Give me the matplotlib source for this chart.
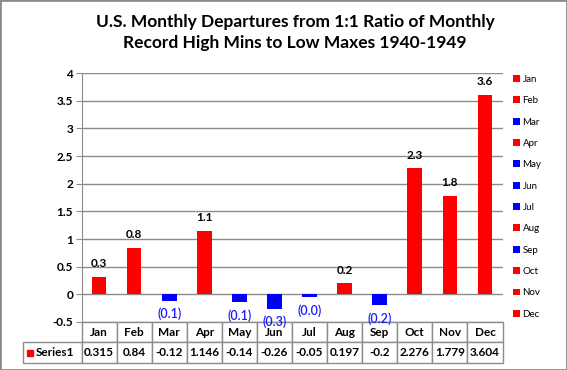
import matplotlib
matplotlib.use("Agg")
import matplotlib.pyplot as plt
from matplotlib.patches import Patch, Rectangle
from matplotlib.table import Table

months = ["Jan", "Feb", "Mar", "Apr", "May", "Jun", "Jul", "Aug", "Sep", "Oct", "Nov", "Dec"]
values = [0.315, 0.84, -0.12, 1.146, -0.14, -0.26, -0.05, 0.197, -0.2, 2.276, 1.779, 3.604]
value_text = ["0.315", "0.84", "-0.12", "1.146", "-0.14", "-0.26", "-0.05", "0.197", "-0.2", "2.276", "1.779", "3.604"]
bar_labels = ["0.3", "0.8", "(0.1)", "1.1", "(0.1)", "(0.3)", "(0.0)", "0.2", "(0.2)", "2.3", "1.8", "3.6"]
series_name = "Series1"
title = "U.S. Monthly Departures from 1:1 Ratio of Monthly\nRecord High Mins to Low Maxes 1940-1949"

plt.rcParams['font.family'] = ['Lato', 'DejaVu Sans']

W, H = 567, 370
fig = plt.figure(figsize=(W / 100, H / 100), dpi=100)
fig.patches.append(Rectangle((0, 0), 1, 1, transform=fig.transFigure, fill=False,
                             edgecolor='#8c8c8c', linewidth=2, zorder=10))

left, right, top, bottom = 81.5, 502.5, 73, 322
ax = fig.add_axes([left / W, 1 - bottom / H, (right - left) / W, (bottom - top) / H])

colors = ['#ff0000' if v >= 0 else '#0000ff' for v in values]
x = list(range(len(months)))
ax.bar(x, values, width=0.42, color=colors, zorder=3)
ax.set_xlim(-0.5, len(months) - 0.5)
ax.set_ylim(-0.5, 4)
ax.set_yticks([-0.5, 0, 0.5, 1, 1.5, 2, 2.5, 3, 3.5, 4])
ax.set_yticklabels(["-0.5", "0", "0.5", "1", "1.5", "2", "2.5", "3", "3.5", "4"],
                   fontsize=8.5, fontweight='bold')
ax.set_xticks([])
ax.grid(axis='y', color='#8c8c8c', linewidth=1, zorder=0)
for s in ['top', 'right', 'bottom']:
    ax.spines[s].set_visible(False)
ax.spines['left'].set_color('#8c8c8c')
ax.tick_params(axis='y', length=4, color='#8c8c8c', pad=2)

for xi, v, lab in zip(x, values, bar_labels):
    if v >= 0:
        ax.annotate(lab, (xi, v), xytext=(0, 9.5), textcoords='offset points',
                    ha='center', va='center', fontsize=8.5, fontweight='bold', color='black')
    else:
        ax.annotate(lab, (xi, v), xytext=(0, -9.5), textcoords='offset points',
                    ha='center', va='center', fontsize=9, fontweight='semibold', color='#1a1aff')

# data table (label column + 12 month columns)
ax_w = right - left
ax_h = bottom - top
lab_w = (left - 23) / ax_w
row_h1 = (342 - 322) / ax_h
row_h2 = (363 - 342) / ax_h
tbl = Table(ax, bbox=[-lab_w, -(row_h1 + row_h2), 1 + lab_w, row_h1 + row_h2])
tbl.auto_set_font_size(False)
cw = 1 / len(months)
c00 = tbl.add_cell(0, 0, width=lab_w, height=row_h1, text='')
c00.visible_edges = ''
tbl.add_cell(1, 0, width=lab_w, height=row_h2, text='')
for j, (m, t) in enumerate(zip(months, value_text)):
    tbl.add_cell(0, j + 1, width=cw, height=row_h1, text=m, loc='center')
    tbl.add_cell(1, j + 1, width=cw, height=row_h2, text=t, loc='center')
for (r, c), cell in tbl.get_celld().items():
    cell.set_edgecolor('#8c8c8c')
    cell.set_linewidth(1)
    cell.get_text().set_fontweight('bold')
    cell.get_text().set_fontsize(8.5)
    cell.PAD = 0.02
ax.add_table(tbl)
ax.text(-lab_w + (36 - 23) / ax_w, -(352.5 - 322) / ax_h, series_name, transform=ax.transAxes,
        ha='left', va='center', fontsize=8.5, fontweight='bold')
ax.plot([-lab_w + (30 - 23) / ax_w], [-(352.5 - 322) / ax_h], marker='s', markersize=5,
        color='#ff0000', transform=ax.transAxes, clip_on=False, linestyle='none')

# legend
handles = [Patch(facecolor=c, edgecolor='none') for c in colors]
fig.legend(handles, months, loc='upper left', bbox_to_anchor=(508 / W, 1 - 70 / H),
           frameon=False, fontsize=7, labelspacing=1.27, handlelength=0.7,
           handleheight=0.7, handletextpad=0.3, borderpad=0)

fig.text(295 / W, 1 - 32.5 / H, title, ha='center', va='center', fontsize=12.5,
         fontweight='bold', linespacing=1.45)

fig.savefig("out.png", dpi=100)
